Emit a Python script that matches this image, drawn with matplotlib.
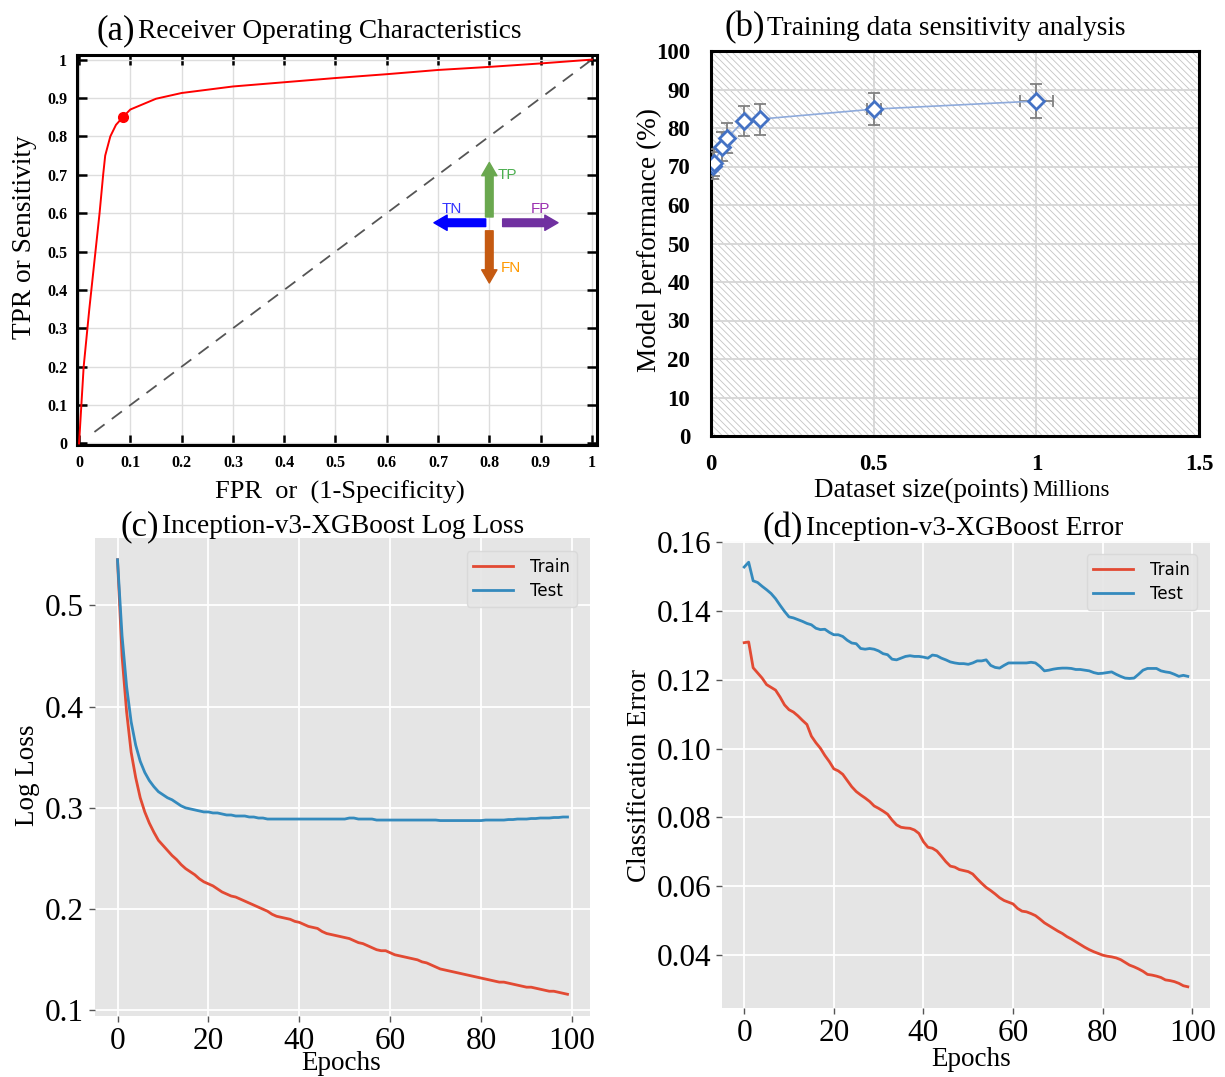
import matplotlib
matplotlib.use('Agg')
import matplotlib.pyplot as plt
from matplotlib.patches import FancyArrowPatch, Rectangle
import numpy as np

plt.rcParams['font.family'] = ['Liberation Serif', 'DejaVu Serif']
plt.rcParams['hatch.linewidth'] = 0.6

W, H = 1225, 1077

# ---- (a) ROC curve ----
roc_fpr = [0, 0.009, 0.02, 0.032, 0.04, 0.047, 0.051, 0.061, 0.072, 0.086, 0.1, 0.15,
           0.2, 0.3, 0.4, 0.5, 0.6, 0.7, 0.8, 0.9, 1.0]
roc_tpr = [0, 0.2, 0.35, 0.5, 0.6, 0.7, 0.75, 0.8, 0.83, 0.851, 0.87, 0.898,
           0.913, 0.93, 0.941, 0.952, 0.962, 0.973, 0.981, 0.99, 1.0]
op_fpr, op_tpr = 0.086, 0.851
chance = [0.03, 1.0]

# ---- (b) training data sensitivity ----
size_m = [0.005, 0.01, 0.033, 0.05, 0.1, 0.15, 0.5, 1.0]
perf = [70.2, 71.0, 75.1, 77.4, 81.8, 82.3, 84.9, 87.0]
perf_err = [3.5, 3.5, 3.8, 3.8, 4.0, 4.0, 4.2, 4.3]
size_err = [0, 0, 0, 0, 0, 0, 0.022, 0.05]

# ---- (c) log loss ----
loss_train = [0.545, 0.450, 0.395, 0.355, 0.330, 0.310, 0.296, 0.285, 0.276, 0.268,
              0.263, 0.258, 0.253, 0.249, 0.244, 0.240, 0.237, 0.234, 0.230, 0.227,
              0.225, 0.223, 0.220, 0.217, 0.215, 0.213, 0.212, 0.210, 0.208, 0.206,
              0.204, 0.202, 0.200, 0.198, 0.195, 0.193, 0.192, 0.191, 0.190, 0.188,
              0.187, 0.185, 0.183, 0.182, 0.181, 0.178, 0.176, 0.175, 0.174, 0.173,
              0.172, 0.171, 0.169, 0.167, 0.166, 0.164, 0.162, 0.160, 0.159, 0.159,
              0.157, 0.155, 0.154, 0.153, 0.152, 0.151, 0.150, 0.148, 0.147, 0.145,
              0.143, 0.141, 0.140, 0.139, 0.138, 0.137, 0.136, 0.135, 0.134, 0.133,
              0.132, 0.131, 0.130, 0.129, 0.128, 0.128, 0.127, 0.126, 0.125, 0.124,
              0.123, 0.123, 0.122, 0.121, 0.120, 0.119, 0.119, 0.118, 0.117, 0.116]
loss_test = [0.545, 0.470, 0.420, 0.385, 0.362, 0.346, 0.335, 0.327, 0.321, 0.316,
             0.313, 0.310, 0.308, 0.305, 0.302, 0.300, 0.299, 0.298, 0.297, 0.296,
             0.296, 0.295, 0.295, 0.294, 0.293, 0.293, 0.292, 0.292, 0.292, 0.291,
             0.291, 0.290, 0.290, 0.289, 0.289, 0.289, 0.289, 0.289, 0.289, 0.289,
             0.289, 0.289, 0.289, 0.289, 0.289, 0.289, 0.289, 0.289, 0.289, 0.289,
             0.289, 0.290, 0.290, 0.289, 0.289, 0.289, 0.289, 0.288, 0.288, 0.288,
             0.288, 0.288, 0.288, 0.288, 0.288, 0.288, 0.288, 0.288, 0.288, 0.288,
             0.288, 0.2875, 0.2875, 0.2875, 0.2875, 0.2875, 0.2875, 0.2875, 0.2875, 0.2875,
             0.2875, 0.288, 0.288, 0.288, 0.288, 0.288, 0.2885, 0.2885, 0.289, 0.289,
             0.289, 0.2895, 0.2895, 0.290, 0.290, 0.290, 0.2905, 0.2905, 0.291, 0.291]

# ---- (d) classification error ----
err_train = [0.1308, 0.1310, 0.1235, 0.1220, 0.1205, 0.1186, 0.1178, 0.1170, 0.1150, 0.1127,
             0.1113, 0.1106, 0.1095, 0.1082, 0.1070, 0.1036, 0.1017, 0.1001, 0.0980, 0.0962,
             0.0941, 0.0935, 0.0925, 0.0907, 0.0889, 0.0875, 0.0865, 0.0856, 0.0846, 0.0833,
             0.0826, 0.0818, 0.0809, 0.0792, 0.0778, 0.0771, 0.0769, 0.0768, 0.0763, 0.0753,
             0.0729, 0.0713, 0.0710, 0.0702, 0.0687, 0.0671, 0.0658, 0.0655, 0.0648, 0.0645,
             0.0642, 0.0635, 0.0621, 0.0608, 0.0596, 0.0587, 0.0577, 0.0566, 0.0558, 0.0553,
             0.0548, 0.0535, 0.0527, 0.0525, 0.0520, 0.0514, 0.0504, 0.0493, 0.0485, 0.0477,
             0.0469, 0.0462, 0.0453, 0.0446, 0.0438, 0.0430, 0.0422, 0.0415, 0.0409, 0.0404,
             0.0399, 0.0396, 0.0394, 0.0391, 0.0386, 0.0378, 0.0370, 0.0365, 0.0359, 0.0352,
             0.0343, 0.0341, 0.0338, 0.0334, 0.0327, 0.0325, 0.0322, 0.0317, 0.0310, 0.0307]
err_test = [0.1528, 0.1542, 0.1488, 0.1483, 0.1472, 0.1462, 0.1451, 0.1436, 0.1417, 0.1399,
            0.1383, 0.1380, 0.1375, 0.1370, 0.1364, 0.1360, 0.1350, 0.1346, 0.1347, 0.1338,
            0.1331, 0.1331, 0.1326, 0.1315, 0.1307, 0.1305, 0.1291, 0.1289, 0.1291, 0.1289,
            0.1284, 0.1276, 0.1273, 0.1260, 0.1258, 0.1263, 0.1268, 0.1270, 0.1268, 0.1268,
            0.1266, 0.1263, 0.1272, 0.1270, 0.1263, 0.1258, 0.1252, 0.1249, 0.1247, 0.1247,
            0.1245, 0.1249, 0.1255, 0.1255, 0.1258, 0.1242, 0.1236, 0.1234, 0.1242, 0.1249,
            0.1249, 0.1249, 0.1249, 0.1249, 0.1251, 0.1249, 0.1239, 0.1226, 0.1228, 0.1231,
            0.1233, 0.1234, 0.1234, 0.1233, 0.1230, 0.1230, 0.1228, 0.1226, 0.1221, 0.1218,
            0.1219, 0.1221, 0.1223, 0.1216, 0.1210, 0.1205, 0.1204, 0.1205, 0.1216, 0.1228,
            0.1233, 0.1233, 0.1233, 0.1226, 0.1223, 0.1221, 0.1216, 0.1210, 0.1213, 0.1210]

epochs = np.arange(len(loss_train))


def box(left, top, right, bottom):
    # pixel box -> figure fraction
    return [left / W, 1 - bottom / H, (right - left) / W, (bottom - top) / H]


def ftext(x, y, s, **kw):
    fig.text(x / W, 1 - y / H, s, **kw)


fig = plt.figure(figsize=(W / 100, H / 100), dpi=100)

# ================= (a) =================
ax = fig.add_axes(box(77, 55, 597, 445))
ax.plot(roc_fpr, roc_tpr, color='#ff0000', lw=1.4, zorder=3)
ax.plot(op_fpr, op_tpr, 'o', color='#ff0000', ms=7, zorder=4)
ax.plot(chance, chance, color='#555555', lw=1.3, dashes=(7, 5), zorder=2)
ax.set_xlim(-0.004, 1.01)
ax.set_ylim(-0.004, 1.012)
ticks = np.round(np.arange(0, 1.01, 0.1), 1)
ax.set_xticks(ticks)
ax.set_yticks(ticks)
ax.set_xticklabels(['0'] + [f'{t:.1f}' for t in ticks[1:-1]] + ['1'])
ax.set_yticklabels(['0'] + [f'{t:.1f}' for t in ticks[1:-1]] + ['1'])
ax.tick_params(direction='in', length=7, width=1.8, top=True, right=True,
               labelsize=11.5, pad=7)
for lab in ax.get_xticklabels() + ax.get_yticklabels():
    lab.set_fontweight('bold')
ax.grid(color='#dddddd', lw=1.0)
for s in ax.spines.values():
    s.set_linewidth(2.2)
    s.set_color('black')

# TP / TN / FP / FN arrows
arrows = [((0.8, 0.59), (0.8, 0.732), '#6aa84f'),
          ((0.793, 0.575), (0.692, 0.575), '#0000ff'),
          ((0.826, 0.575), (0.934, 0.575), '#7030a0'),
          ((0.8, 0.554), (0.8, 0.418), '#c55a11')]
for p0, p1, c in arrows:
    ax.add_patch(FancyArrowPatch(p0, p1, arrowstyle='simple,tail_width=0.55,head_width=1.1,head_length=0.95',
                                 mutation_scale=10, color=c, shrinkA=0, shrinkB=0, zorder=5))
lab_kw = dict(family='Liberation Sans', fontsize=11, ha='center', va='center', zorder=6)
ax.text(0.835, 0.70, 'TP', color='#4caf50', **lab_kw)
ax.text(0.727, 0.61, 'TN', color='#3333ff', **lab_kw)
ax.text(0.899, 0.61, 'FP', color='#9b30b0', **lab_kw)
ax.text(0.842, 0.456, 'FN', color='#ff9900', **lab_kw)

ftext(135, 39, '(a)', fontsize=25, ha='right', va='baseline')
ftext(138, 38, 'Receiver Operating Characteristics', fontsize=19.7, ha='left', va='baseline')
ftext(340, 499, 'FPR  or  (1-Specificity)', fontsize=19, ha='center', va='baseline')
ftext(25, 237, 'TPR or Sensitivity', fontsize=19.7, rotation=90, ha='center', va='center')

# ================= (b) =================
ax = fig.add_axes(box(711, 51, 1199, 436))
ax.add_patch(Rectangle((0, 0), 1, 1, transform=ax.transAxes, facecolor='white',
                       edgecolor='#c4c4c4', hatch='\\\\\\\\\\', lw=0, zorder=0))
ax.errorbar(size_m, perf, yerr=perf_err, xerr=size_err, fmt='none', ecolor='#808080',
            elinewidth=1.3, capsize=4, capthick=1.3, zorder=3)
ax.plot(size_m, perf, color='#8eaadb', lw=1.2, zorder=4)
ax.plot(size_m, perf, 'D', ms=8, mfc='white', mec='#4472c4', mew=2, zorder=5)
ax.set_xlim(0, 1.5)
ax.set_ylim(0, 100)
ax.set_xticks([0, 0.5, 1, 1.5])
ax.set_xticklabels(['0', '0.5', '1', '1.5'])
ax.set_yticks(range(0, 101, 10))
ax.tick_params(length=0, labelsize=16.5)
ax.tick_params(axis='y', pad=15)
ax.tick_params(axis='x', pad=13)
for lab in ax.get_xticklabels() + ax.get_yticklabels():
    lab.set_fontweight('bold')
ax.grid(color='#d6d6d6', lw=1.3, zorder=1)
ax.set_axisbelow(True)
for s in ax.spines.values():
    s.set_linewidth(2.2)
    s.set_color('black')

ftext(765, 36, '(b)', fontsize=25, ha='right', va='baseline')
ftext(767, 35, 'Training data sensitivity analysis', fontsize=19.6, ha='left', va='baseline')
ftext(1029, 497, 'Dataset size(points)', fontsize=19.5, ha='right', va='baseline')
ftext(1032, 496, 'Millions', fontsize=16.5, ha='left', va='baseline')
ftext(649, 240, 'Model performance (%)', fontsize=19.6, rotation=90, ha='center', va='center')

# ================= (c) & (d) ggplot-like =================
def gg_axes(rect):
    a = fig.add_axes(rect)
    a.set_facecolor('#e5e5e5')
    a.grid(color='white', lw=1.3)
    a.set_axisbelow(True)
    for s in a.spines.values():
        s.set_visible(False)
    a.tick_params(direction='out', length=4, width=1, color='#555555', labelsize=22.5, pad=4)
    return a


leg_kw = dict(loc='upper right', prop={'family': 'DejaVu Sans', 'size': 12},
              facecolor='#e5e5e5', edgecolor='#d8d8d8', framealpha=0.9,
              borderaxespad=0.8, labelspacing=0.35, handlelength=2.4, handletextpad=1.0)

ax = gg_axes(box(95, 538, 590, 1016))
ax.plot(epochs, loss_train, color='#e24a33', lw=2, label='Train')
ax.plot(epochs, loss_test, color='#348abd', lw=2, label='Test')
ax.set_yticks([0.1, 0.2, 0.3, 0.4, 0.5])
ax.set_xticks(range(0, 101, 20))
ax.legend(**leg_kw)
ftext(159, 535, '(c)', fontsize=25, ha='right', va='baseline')
ftext(162, 533, 'Inception-v3-XGBoost Log Loss', fontsize=19.7, ha='left', va='baseline')
ftext(341, 1070, 'Epochs', fontsize=19.5, ha='center', va='baseline')
ftext(27, 775, 'Log Loss', fontsize=19.5, rotation=90, ha='center', va='center')

ax = gg_axes(box(722, 541, 1210, 1008))
ax.plot(epochs, err_train, color='#e24a33', lw=2, label='Train')
ax.plot(epochs, err_test, color='#348abd', lw=2, label='Test')
ax.set_yticks([0.04, 0.06, 0.08, 0.10, 0.12, 0.14, 0.16])
ax.set_yticklabels(['0.04', '0.06', '0.08', '0.10', '0.12', '0.14', '0.16'])
ax.set_xticks(range(0, 101, 20))
ax.legend(**leg_kw)
ftext(803, 537, '(d)', fontsize=25, ha='right', va='baseline')
ftext(806, 535, 'Inception-v3-XGBoost Error', fontsize=19.7, ha='left', va='baseline')
ftext(971, 1066, 'Epochs', fontsize=19.5, ha='center', va='baseline')
ftext(639, 775, 'Classification Error', fontsize=19.5, rotation=90, ha='center', va='center')

fig.savefig('out.png', dpi=100, facecolor='white')
